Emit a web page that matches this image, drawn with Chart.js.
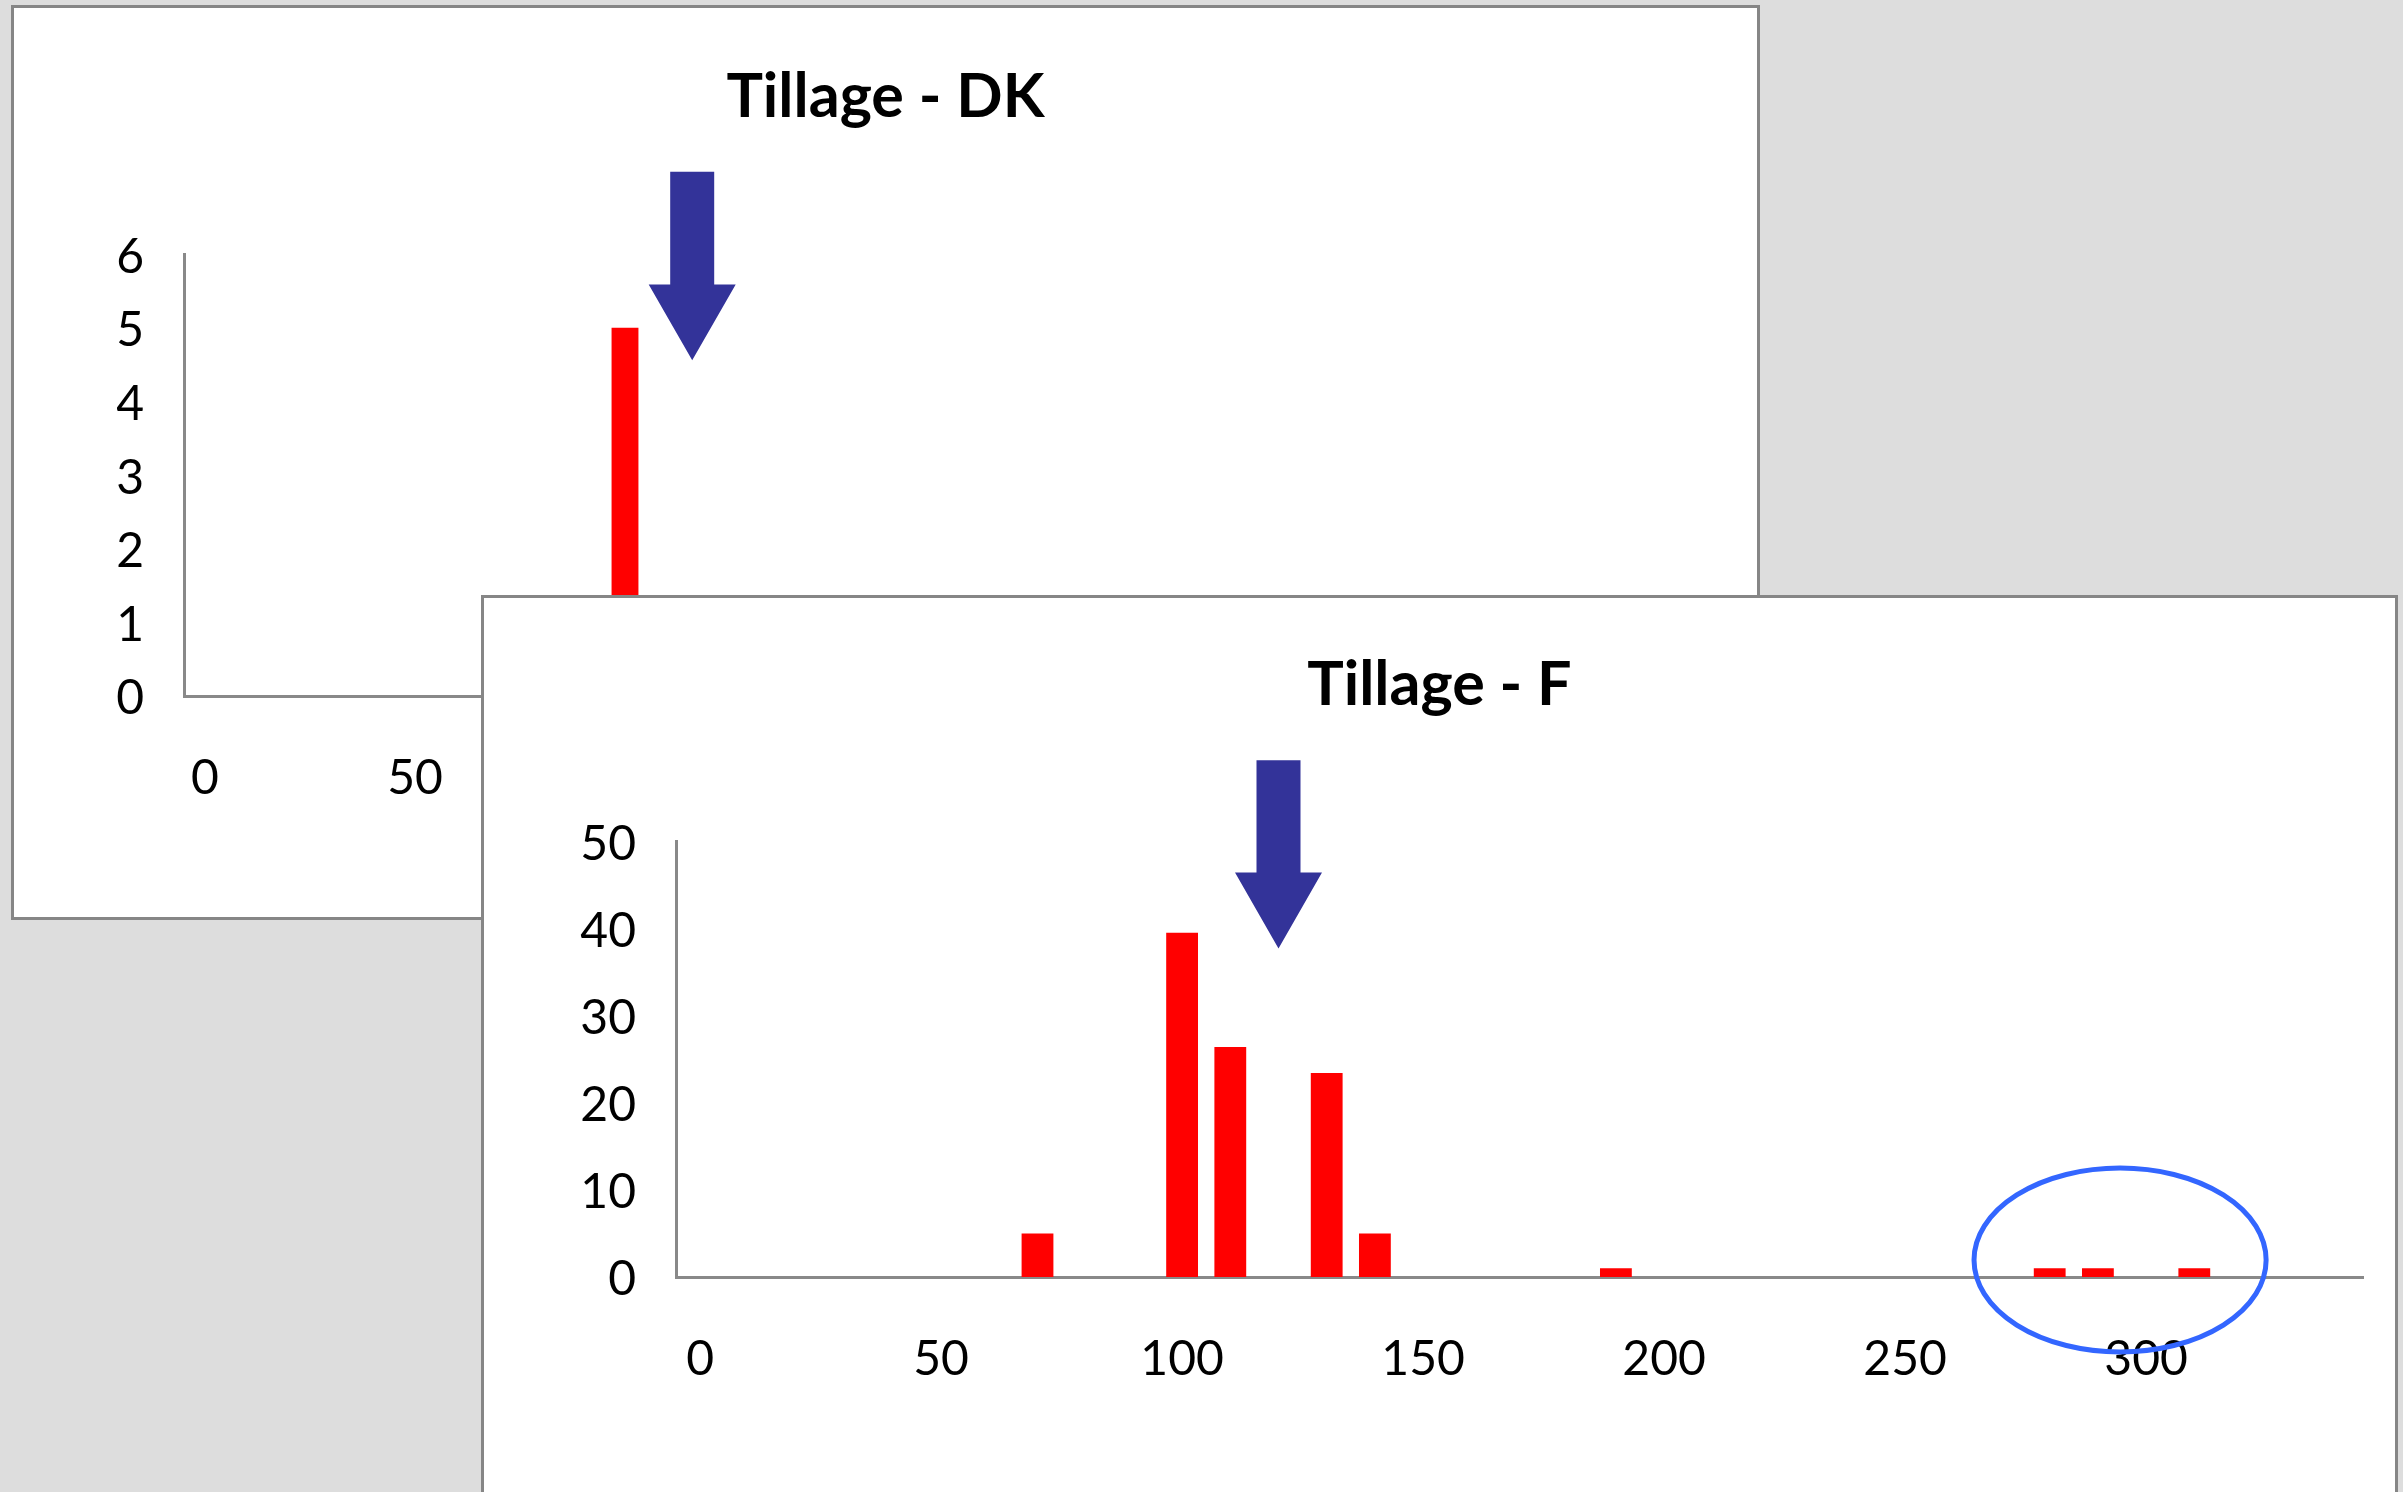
<!DOCTYPE html>
<html>
<head>
<meta charset="utf-8">
<script src="https://cdn.jsdelivr.net/npm/chart.js@4.4.0/dist/chart.umd.min.js"></script>
<style>
  html, body { margin: 0; padding: 0; }
  body { width: 2403px; height: 1492px; background: #dddddd; position: relative; overflow: hidden; }
  .panel { position: absolute; background: #fff; border: 3px solid #868686; box-sizing: border-box; }
  #panelDK { left: 11px; top: 5px; width: 1749px; height: 915px; }
  #panelF { left: 481px; top: 595px; width: 1917px; height: 1000px; }
  .panel canvas { display: block; }
</style>
</head>
<body>
<div class="panel" id="panelDK"><canvas id="chartDK"></canvas></div>
<div class="panel" id="panelF"><canvas id="chartF"></canvas></div>

<script>
// bins of 10 along the x axis
const bins = ['0', '10', '20', '30', '40', '50', '60', '70', '80', '90',
              '100', '110', '120', '130', '140', '150', '160', '170', '180', '190',
              '200', '210', '220', '230', '240', '250', '260', '270', '280', '290',
              '300', '310', '320', '330', '340'];
const xTickLabels = ['0', '50', '100', '150', '200', '250', '300'];

const dkCounts = [0, 0, 0, 0, 0, 0, 0, 0, 0, 0,
                  5, 0, 0, 0, 0, 0, 0, 0, 0, 0,
                  0, 0, 0, 0, 0, 0, 0, 0, 0, 0,
                  0, 0, 0, 0, 0];
const fCounts = [0, 0, 0, 0, 0, 0, 0, 5, 0, 0,
                 39.5, 26.4, 0, 23.4, 5, 0, 0, 0, 0, 1,
                 0, 0, 0, 0, 0, 0, 0, 0, 1, 1,
                 0, 1, 0, 0, 0];
const dkYTicks = [0, 1, 2, 3, 4, 5, 6];
const fYTicks = [0, 10, 20, 30, 40, 50];

// value each arrow points at on the x axis
const dkArrowAt = 116;
const fArrowAt = 120;

const AXIS_COLOR = '#898989';
const FONT = 'Lato';

// big down arrow, drawn through the scales
const arrowPlugin = {
    id: 'arrow',
    afterDraw(chart, args, opts) {
        if (!opts || opts.x == null) return;
        const { ctx, scales: { x, y } } = chart;
        const cx = x.getPixelForValue(opts.x / 10);
        const top = y.getPixelForValue(opts.top);
        const neck = y.getPixelForValue(opts.neck);
        const tip = y.getPixelForValue(opts.tip);
        const shaft = 44, head = 87;
        ctx.save();
        ctx.beginPath();
        ctx.moveTo(cx - shaft / 2, top);
        ctx.lineTo(cx + shaft / 2, top);
        ctx.lineTo(cx + shaft / 2, neck);
        ctx.lineTo(cx + head / 2, neck);
        ctx.lineTo(cx, tip);
        ctx.lineTo(cx - head / 2, neck);
        ctx.lineTo(cx - shaft / 2, neck);
        ctx.closePath();
        ctx.fillStyle = '#333399';
        ctx.fill();
        ctx.restore();
    }
};

// blue ring round the far outliers
const ringPlugin = {
    id: 'ring',
    afterDraw(chart, args, opts) {
        if (!opts || opts.x == null) return;
        const { ctx, scales: { x, y } } = chart;
        const cx = x.getPixelForValue(opts.x / 10);
        const rx = Math.abs(x.getPixelForValue((opts.x + opts.rx) / 10) - cx);
        const cy = y.getPixelForValue(opts.y);
        const ry = Math.abs(y.getPixelForValue(opts.y + opts.ry) - cy);
        ctx.save();
        ctx.beginPath();
        ctx.ellipse(cx, cy, rx, ry, 0, 0, Math.PI * 2);
        ctx.lineWidth = 5;
        ctx.strokeStyle = '#3366ff';
        ctx.stroke();
        ctx.restore();
    }
};

function makeHistogram(canvasId, title, counts, yTicks, yMax, barPct, box, extras) {
    const ctx = document.getElementById(canvasId).getContext('2d');
    return new Chart(ctx, {
        type: 'bar',
        data: {
            labels: bins,
            datasets: [{
                data: counts,
                backgroundColor: '#ff0000',
                borderWidth: 0,
                barPercentage: 1,
                categoryPercentage: barPct
            }]
        },
        options: {
            responsive: true,
            maintainAspectRatio: false,
            animation: false,
            // same padding both sides keeps the title centred on the panel
            layout: { padding: { left: box.side, right: box.side, top: 0, bottom: 0 } },
            scales: {
                x: {
                    grid: { display: false },
                    border: { display: true, color: AXIS_COLOR, width: 3 },
                    ticks: {
                        autoSkip: false,
                        maxRotation: 0,
                        padding: 46,
                        color: '#000',
                        font: { family: FONT, size: 48 },
                        callback: function (value) {
                            const lab = this.getLabelForValue(value);
                            return xTickLabels.includes(lab) ? lab : '';
                        }
                    },
                    afterFit: (s) => { s.height = box.xHeight; }
                },
                y: {
                    min: 0,
                    max: yMax,
                    grid: { display: false },
                    border: { display: true, color: AXIS_COLOR, width: 3 },
                    ticks: {
                        padding: 32,
                        labelOffset: 3,
                        color: '#000',
                        font: { family: FONT, size: 48 }
                    },
                    afterBuildTicks: (s) => { s.ticks = yTicks.map(v => ({ value: v })); },
                    afterFit: (s) => { s.width = box.yWidth; }
                }
            },
            plugins: {
                legend: { display: false },
                tooltip: { enabled: false },
                title: {
                    display: true,
                    text: title,
                    color: '#000',
                    font: { family: FONT, size: 61, weight: 'bold' },
                    padding: { top: box.titleTop, bottom: box.titleBottom }
                },
                arrow: extras.arrow,
                ring: extras.ring || {}
            }
        },
        plugins: [arrowPlugin, ringPlugin]
    });
}

makeHistogram('chartDK', 'Tillage - DK', dkCounts, dkYTicks, 6, 0.64,
    { side: 103, xHeight: 221, yWidth: 67, titleTop: 53, titleBottom: 120 },
    { arrow: { x: dkArrowAt, top: 7.12, neck: 5.59, tip: 4.56 } });

makeHistogram('chartF', 'Tillage - F', fCounts, fYTicks, 50, 0.66,
    { side: 32, xHeight: 315, yWidth: 160, titleTop: 51, titleBottom: 119 },
    { arrow: { x: fArrowAt, top: 59.3, neck: 46.4, tip: 37.7 },
      ring: { x: 294.6, y: 1.95, rx: 30.3, ry: 10.55 } });
</script>
</body>
</html>
